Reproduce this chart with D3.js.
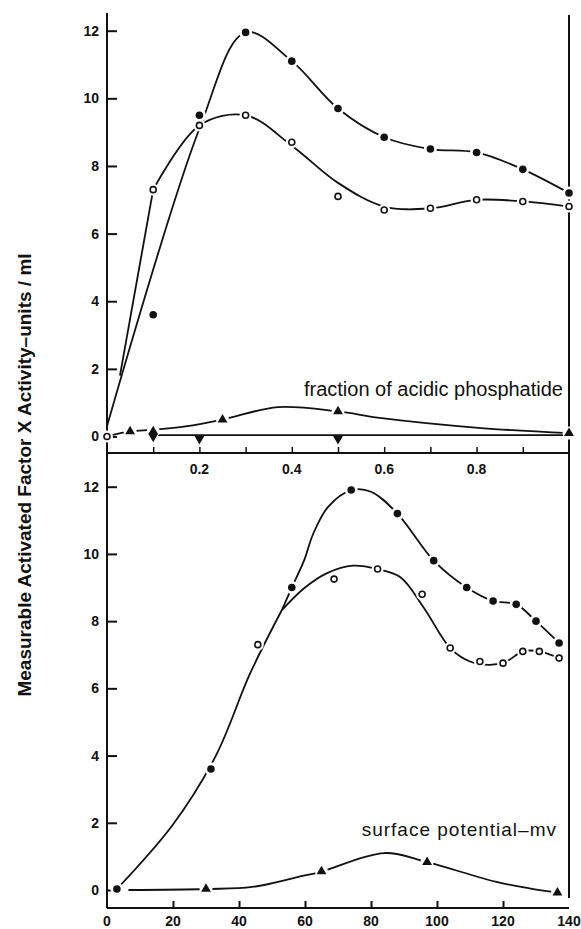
<!DOCTYPE html>
<html lang="en">
<head>
<meta charset="UTF-8">
<title>Activated Factor X vs acidic phosphatide / surface potential</title>
<script src="https://cdn.jsdelivr.net/npm/d3@7"></script>
<style>
  html, body { margin: 0; padding: 0; background: #fff; }
  svg { display: block; }
  .tick-label { font-family: "Liberation Sans", Arial, sans-serif; font-weight: bold; font-size: 14px; fill: #111; }
  .note { font-family: "Liberation Sans", Arial, sans-serif; font-size: 20px; fill: #111; }
  .ylab { font-family: "Liberation Sans", Arial, sans-serif; font-weight: bold; font-size: 19px; fill: #111; }
  .axis-line { stroke: #111; stroke-width: 2; fill: none; }
  .curve { stroke: #111; stroke-width: 1.8; fill: none; }
</style>
</head>
<body>
<div id="chart"></div>
<script>
// ---------- data: top panel (fraction of acidic phosphatide) ----------
const topFilledPts = [[0.1, 3.6], [0.2, 9.5], [0.3, 11.95], [0.4, 11.1], [0.5, 9.7], [0.6, 8.85], [0.7, 8.5], [0.8, 8.4], [0.9, 7.9], [1.0, 7.2]]
const topFilledCurve = [[0, 0.3], [0.2, 9.1], [0.3, 11.95], [0.4, 11.1], [0.5, 9.7], [0.6, 8.85], [0.7, 8.5], [0.8, 8.4], [0.9, 7.9], [1.0, 7.2]]
const topOpenPts = [[0, 0], [0.1, 7.3], [0.2, 9.2], [0.3, 9.5], [0.4, 8.7], [0.5, 7.1], [0.6, 6.7], [0.7, 6.75], [0.8, 7.0], [0.9, 6.95], [1.0, 6.8]]
const topOpenLead = [[0.028, 1.8], [0.1, 7.3]]
const topOpenCurve = [[0.1, 7.3], [0.2, 9.2], [0.3, 9.5], [0.4, 8.6], [0.5, 7.5], [0.6, 6.8], [0.7, 6.75], [0.8, 7.0], [0.9, 6.95], [1.0, 6.8]]
const topTriPts = [[0.05, 0.15], [0.1, 0.15], [0.25, 0.5], [0.5, 0.74], [1.0, 0.1]]
const topTriCurve = [[0, 0], [0.05, 0.15], [0.1, 0.2], [0.17, 0.3], [0.25, 0.5], [0.37, 0.87], [0.5, 0.74], [0.59, 0.55], [0.81, 0.25], [1.0, 0.1]]
const topInvPts = [[0.1, 0.0], [0.2, -0.07], [0.5, -0.07]]
const topInvLine = [[0.1, 0.04], [0.2, 0.04], [0.5, 0.04], [1.0, 0.04]]

// ---------- data: bottom panel (surface potential, mV) ----------
const botFilledPts = [[3, 0.03], [31.5, 3.6], [56, 9.0], [74, 11.9], [88, 11.2], [99, 9.8], [109, 9.0], [117, 8.6], [124, 8.5], [130, 8.0], [137, 7.35]]
const botSharedCurve = [[3, 0.03], [20, 1.95], [33, 4.0], [43.4, 6.45], [53, 8.33]]
const botFilledCurve = [[53, 8.33], [56, 9.0], [59.7, 9.8], [62.5, 10.6], [67, 11.4], [74, 11.9], [80, 11.85], [88, 11.2], [99, 9.8], [109, 9.0], [117, 8.6], [124, 8.5], [130, 8.0], [137, 7.35]]
const botOpenPts = [[45.7, 7.3], [68.8, 9.25], [82, 9.55], [95.5, 8.8], [104, 7.2], [113, 6.8], [120, 6.75], [126, 7.1], [131, 7.1], [137, 6.9]]
const botOpenCurve = [[53, 8.33], [60, 9.0], [66.7, 9.43], [74.5, 9.65], [82, 9.55], [89, 9.3], [96, 8.4], [104, 7.2], [110, 6.8], [116, 6.7], [121, 6.8], [126, 7.1], [131, 7.1], [137, 6.9]]
const botTriPts = [[30, 0.03], [65, 0.55], [97, 0.83], [136.5, -0.08]]
const botTriCurve = [[6.5, 0], [30, 0.03], [44, 0.09], [58, 0.39], [65, 0.55], [84, 1.1], [97, 0.83], [118, 0.24], [128, 0.05], [136.5, -0.08]]

// ---------- ticks and labels ----------
const yTicks = [0, 2, 4, 6, 8, 10, 12]
const topXMinor = [0.1, 0.2, 0.3, 0.4, 0.5, 0.6, 0.7, 0.8, 0.9]
const topXLabels = [0.2, 0.4, 0.6, 0.8]
const botXTicks = [20, 40, 60, 80, 100, 120]
const botXLabels = [0, 20, 40, 60, 80, 100, 120, 140]
const yTitle = 'Measurable Activated Factor X Activity\u2013units / ml'
const topNote = 'fraction of acidic phosphatide'
const botNote = 'surface potential\u2013mv'

// ---------- layout ----------
const W = 581, H = 929
const LEFT = 107, RIGHT = 569
const TOP_Y0 = 13, MID_Y = 453, BOT_Y1 = 908

const svg = d3.select('#chart').append('svg')
  .attr('width', W).attr('height', H)

const xTop = d3.scaleLinear().domain([0, 1]).range([LEFT, RIGHT])
const yTop = d3.scaleLinear().domain([0, 12]).range([436.5, 30.7])
const xBot = d3.scaleLinear().domain([0, 140]).range([LEFT, RIGHT])
const yBot = d3.scaleLinear().domain([0, 12]).range([890, 486.7])

// frame lines
svg.append('line').attr('class', 'axis-line')
  .attr('x1', LEFT).attr('x2', LEFT).attr('y1', TOP_Y0).attr('y2', BOT_Y1)
svg.append('line').attr('class', 'axis-line')
  .attr('x1', RIGHT).attr('x2', RIGHT).attr('y1', TOP_Y0 + 2).attr('y2', BOT_Y1 - 10)
svg.append('line').attr('class', 'axis-line')
  .attr('x1', LEFT).attr('x2', RIGHT).attr('y1', MID_Y).attr('y2', MID_Y)
svg.append('line').attr('class', 'axis-line')
  .attr('x1', LEFT).attr('x2', RIGHT).attr('y1', BOT_Y1).attr('y2', BOT_Y1)

// y axes (ticks inward, labels outside)
function yAxis(scale) {
  const ax = d3.axisLeft(scale).tickValues(yTicks).tickSize(-10).tickPadding(14)
    .tickFormat(d3.format('d'))
  const g = svg.append('g').attr('transform', `translate(${LEFT},0)`).call(ax)
  g.select('.domain').remove()
  g.selectAll('.tick line').attr('stroke', '#111').attr('stroke-width', 2)
  g.selectAll('.tick text').attr('class', 'tick-label').attr('x', -8)
}
yAxis(yTop)
yAxis(yBot)

// top x axis: minor ticks pointing up, labels below
const gTopX = svg.append('g').attr('transform', `translate(0,${MID_Y})`)
  .call(d3.axisBottom(xTop).tickValues(topXMinor).tickSize(-6).tickFormat(''))
gTopX.select('.domain').remove()
gTopX.selectAll('.tick line').attr('stroke', '#111').attr('stroke-width', 1.5)
svg.append('g').attr('transform', `translate(0,${MID_Y})`)
  .selectAll('text').data(topXLabels).join('text')
  .attr('class', 'tick-label')
  .attr('x', d => xTop(d)).attr('y', 21)
  .attr('text-anchor', 'middle')
  .text(d => d3.format('.1f')(d))

// bottom x axis
const gBotX = svg.append('g').attr('transform', `translate(0,${BOT_Y1})`)
  .call(d3.axisBottom(xBot).tickValues(botXTicks).tickSize(-7).tickFormat(''))
gBotX.select('.domain').remove()
gBotX.selectAll('.tick line').attr('stroke', '#111').attr('stroke-width', 2)
svg.append('g').attr('transform', `translate(0,${BOT_Y1})`)
  .selectAll('text').data(botXLabels).join('text')
  .attr('class', 'tick-label')
  .attr('x', d => xBot(d)).attr('y', 18)
  .attr('text-anchor', 'middle')
  .text(d => d)

// curves
function curve(data, xs, ys, kind) {
  const line = d3.line().x(d => xs(d[0])).y(d => ys(d[1]))
    .curve(kind || d3.curveCatmullRom.alpha(0.5))
  svg.append('path').attr('class', 'curve').attr('d', line(data))
}
curve(topFilledCurve, xTop, yTop)
curve(topOpenLead, xTop, yTop, d3.curveLinear)
curve(topOpenCurve, xTop, yTop)
curve(topTriCurve, xTop, yTop)
curve(topInvLine, xTop, yTop, d3.curveLinear)
curve(botSharedCurve, xBot, yBot)
curve(botFilledCurve, xBot, yBot)
curve(botOpenCurve, xBot, yBot)
curve(botTriCurve, xBot, yBot)

// markers, each with a white halo that breaks the line around it
const tri = d3.symbol().type(d3.symbolTriangle).size(42)
function markers(data, xs, ys, type) {
  const g = svg.append('g')
  const sel = g.selectAll('g').data(data).join('g')
    .attr('transform', d => `translate(${xs(d[0])},${ys(d[1])})`)
  if (type === 'filled') {
    sel.append('circle').attr('r', 6.5).attr('fill', '#fff')
    sel.append('circle').attr('r', 3.8).attr('fill', '#111')
  } else if (type === 'open') {
    sel.append('circle').attr('r', 6).attr('fill', '#fff')
    sel.append('circle').attr('r', 3).attr('fill', '#fff').attr('stroke', '#111').attr('stroke-width', 1.6)
  } else if (type === 'tri') {
    sel.append('circle').attr('r', 6.5).attr('fill', '#fff')
    sel.append('path').attr('d', tri).attr('fill', '#111')
  } else if (type === 'inv') {
    sel.append('path').attr('d', tri).attr('fill', '#111').attr('transform', 'rotate(180)')
  }
}
markers(topFilledPts, xTop, yTop, 'filled')
markers(topOpenPts, xTop, yTop, 'open')
markers(topTriPts, xTop, yTop, 'tri')
markers(topInvPts, xTop, yTop, 'inv')
markers(botFilledPts, xBot, yBot, 'filled')
markers(botOpenPts, xBot, yBot, 'open')
markers(botTriPts, xBot, yBot, 'tri')

// annotations
svg.append('text').attr('class', 'note')
  .attr('x', 563).attr('y', 396).attr('text-anchor', 'end')
  .text(topNote)
svg.append('text').attr('class', 'note')
  .attr('x', 557).attr('y', 836).attr('text-anchor', 'end')
  .style('font-size', '19px').style('letter-spacing', '1px')
  .text(botNote)

// y title
svg.append('text').attr('class', 'ylab')
  .attr('transform', 'translate(31,475) rotate(-90)')
  .attr('text-anchor', 'middle')
  .text(yTitle)
</script>
</body>
</html>
